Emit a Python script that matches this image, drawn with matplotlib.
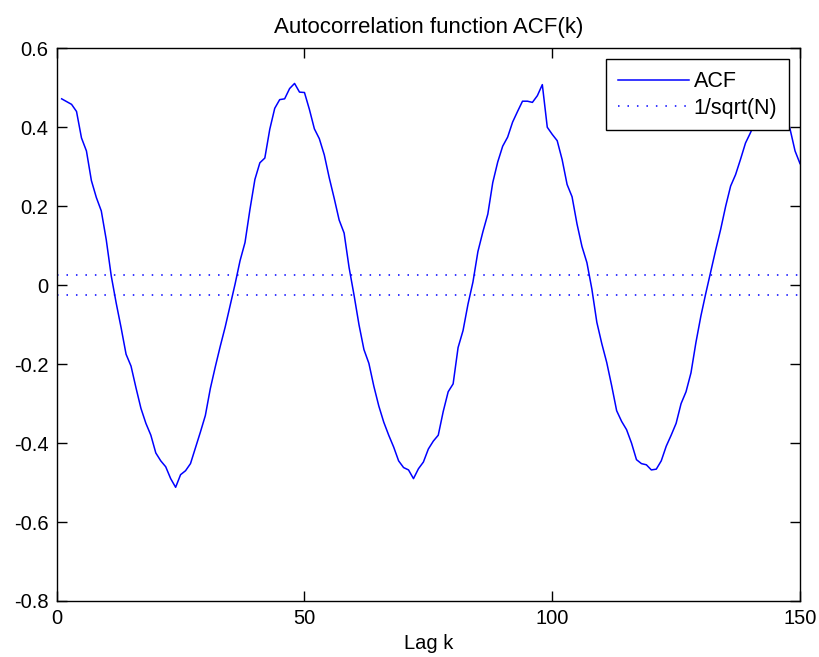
import matplotlib
matplotlib.use("Agg")
import matplotlib.pyplot as plt
import numpy as np

plt.rcParams['font.family'] = ['Liberation Sans', 'DejaVu Sans']

lags = list(range(1, 151))
acf = [
    0.472, 0.465, 0.458, 0.440, 0.373, 0.340, 0.265, 0.222, 0.188, 0.115,
    0.024, -0.045, -0.108, -0.175, -0.205, -0.260, -0.312, -0.350, -0.380, -0.425,
    -0.445, -0.460, -0.490, -0.512, -0.480, -0.470, -0.452, -0.412, -0.372, -0.330,
    -0.262, -0.207, -0.155, -0.106, -0.052, 0.003, 0.062, 0.108, 0.192, 0.268,
    0.310, 0.322, 0.395, 0.448, 0.470, 0.472, 0.498, 0.511, 0.489, 0.488,
    0.445, 0.396, 0.371, 0.330, 0.272, 0.220, 0.165, 0.132, 0.045, -0.025,
    -0.100, -0.163, -0.198, -0.256, -0.306, -0.347, -0.380, -0.410, -0.445, -0.462,
    -0.468, -0.490, -0.465, -0.448, -0.415, -0.395, -0.380, -0.320, -0.270, -0.250,
    -0.158, -0.115, -0.048, 0.008, 0.085, 0.135, 0.180, 0.260, 0.312, 0.352,
    0.375, 0.413, 0.440, 0.466, 0.466, 0.463, 0.480, 0.508, 0.400, 0.382,
    0.366, 0.318, 0.255, 0.224, 0.155, 0.098, 0.057, -0.010, -0.094, -0.148,
    -0.196, -0.255, -0.318, -0.345, -0.366, -0.400, -0.442, -0.452, -0.455, -0.468,
    -0.466, -0.445, -0.408, -0.380, -0.350, -0.300, -0.270, -0.222, -0.145, -0.078,
    -0.020, 0.035, 0.090, 0.142, 0.200, 0.251, 0.280, 0.319, 0.360, 0.386,
    0.415, 0.440, 0.462, 0.475, 0.478, 0.465, 0.440, 0.395, 0.340, 0.308,
]
conf = 0.026
conf_x = [0, 150]

xticks = [0, 50, 100, 150]
yticks = [-0.8, -0.6, -0.4, -0.2, 0, 0.2, 0.4, 0.6]
yticklabels = ['-0.8', '-0.6', '-0.4', '-0.2', '0', '0.2', '0.4', '0.6']

fig = plt.figure(figsize=(8.19, 6.57), dpi=100)
ax = fig.add_axes([56.7/819, 1 - 601/657, (800 - 56.7)/819, (601 - 48.3)/657])

blue = (0, 0, 1)
ax.plot(lags, acf, color=blue, lw=1.1, label='ACF')
ax.plot(conf_x, [conf, conf], color=blue, lw=1.1, ls=(0, (1, 5.2)), label='1/sqrt(N)')
ax.plot(conf_x, [-conf, -conf], color=blue, lw=1.1, ls=(0, (1, 5.2)))

ax.set_xlim(0, 150)
ax.set_ylim(-0.8, 0.6)
ax.set_xticks(xticks)
ax.set_xticklabels([str(t) for t in xticks])
ax.set_yticks(yticks)
ax.set_yticklabels(yticklabels)
ax.tick_params(direction='in', length=7, width=1, top=True, right=True,
               labelsize=14.5, colors='black', pad=6)
for s in ax.spines.values():
    s.set_linewidth(1.0)
    s.set_color('black')

ax.set_title('Autocorrelation function ACF(k)', fontsize=16, pad=11)
ax.set_xlabel('Lag k', fontsize=14.5, labelpad=4)

leg = ax.legend(loc='upper right', bbox_to_anchor=((789 - 56.7)/743.3, (601 - 59.3)/552.7),
                borderaxespad=0, fancybox=False, edgecolor='black', framealpha=1,
                fontsize=15.5, handlelength=3.3, handletextpad=0.2, borderpad=0.55,
                labelspacing=0.25)
leg.get_frame().set_linewidth(1.0)

fig.savefig('out.png', dpi=100)
